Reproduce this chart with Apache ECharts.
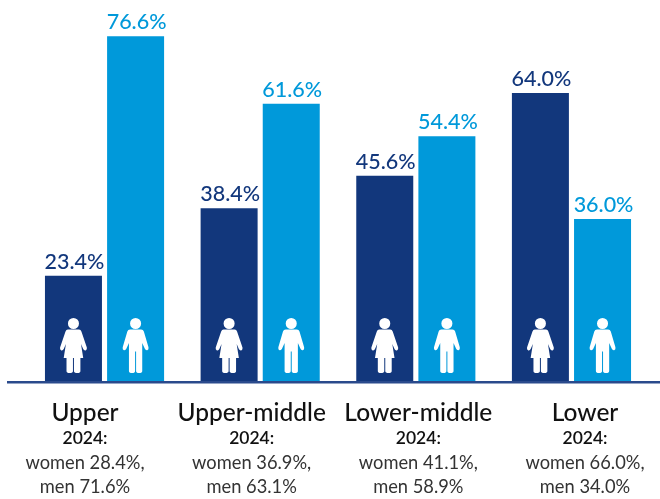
<!DOCTYPE html>
<html>
<head>
<meta charset="utf-8">
<style>html,body{margin:0;padding:0;background:#fff}#chart{width:660px;height:499px}</style>
<script src="https://cdn.jsdelivr.net/npm/echarts@6/dist/echarts.min.js"></script>
</head>
<body>
<div id="chart"></div>
<script>
// Share of women and men in each pay quartile
const categories = ['Upper', 'Upper-middle', 'Lower-middle', 'Lower'];
const womenShare = [23.4, 38.4, 45.6, 64.0];
const menShare = [76.6, 61.6, 54.4, 36.0];
const women2024 = ['28.4', '36.9', '41.1', '66.0'];
const men2024 = ['71.6', '63.1', '58.9', '34.0'];

const NAVY = '#12377c';
const BLUE = '#0099da';
const FONT = 'Lato, "Open Sans", sans-serif';

const womanIcon = 'path://M13.5 0a5.5 5.5 0 1 1-.01 0ZM8 11.5H19Q20.8 11.5 21.4 13.4L26.8 29.6Q27.3 31.8 25.6 32.4 24 32.8 23.2 31L21 26 23.2 40H20.4V53Q20.4 55 17.4 55 14 55 14 53V40H13V53Q13 55 9.6 55 6.6 55 6.6 53V40H3.8L6 26 3.8 31Q3 32.8 1.4 32.4-.3 31.8.2 29.6L5.6 13.4Q6.2 11.5 8 11.5Z';
const manIcon = 'path://M13 0a5.5 5.5 0 1 1-.01 0ZM7.5 11.5H18.5Q20.6 11.5 21.2 13.4L25.8 29.2Q26.3 31.6 24.6 32.2 23 32.6 22.2 30.8L19.6 25V53Q19.6 55 16.5 55 13.5 55 13.5 53V33.5H12.5V53Q12.5 55 9.5 55 6.4 55 6.4 53V25L3.8 30.8Q3 32.6 1.4 32.2-.3 31.6.2 29.2L4.8 13.4Q5.4 11.5 7.5 11.5Z';

function barSeries(name, data, color) {
  return {
    name, type: 'bar', data, barWidth: 57, barGap: '9%',
    itemStyle: { color },
    label: {
      show: true, position: 'top', distance: 3, offset: [1, 0],
      formatter: p => p.value.toFixed(1) + '%',
      color, fontFamily: FONT, fontSize: 21.5, fontWeight: 500
    },
    silent: true
  };
}

function iconSeries(name, data, symbol, size) {
  return {
    name, type: 'pictorialBar', data, symbol,
    symbolSize: size, symbolPosition: 'start', symbolOffset: [0, -8],
    barWidth: 57, barGap: '9%', z: 5,
    itemStyle: { color: '#fff' }, silent: true
  };
}

const chart = echarts.init(document.getElementById('chart'), null, { renderer: 'canvas' });
chart.setOption({
  animation: false,
  backgroundColor: '#fff',
  grid: [
    { left: 26.7, width: 622.6, top: 21, height: 360 },
    { left: 85, width: 500, top: 21, height: 360 }
  ],
  xAxis: [
    { type: 'category', gridIndex: 0, data: categories,
      axisLine: { show: false }, axisTick: { show: false }, axisLabel: { show: false } },
    { type: 'category', gridIndex: 1, data: categories, boundaryGap: false,
      axisLine: { show: false }, axisTick: { show: false },
      axisLabel: {
        interval: 0, margin: 23, lineHeight: 24, align: 'center',
        showMinLabel: true, showMaxLabel: true,
        formatter: (name, i) => `{tier|${name}}\n{year|2024:}\n{gap|women ${women2024[i]}%,}\n{gap|men ${men2024[i]}%}`,
        rich: {
          tier: { fontFamily: FONT, fontSize: 24.5, fontWeight: 500, color: '#111', lineHeight: 26 },
          year: { fontFamily: FONT, fontSize: 17.5, fontWeight: 600, color: '#111', lineHeight: 25 },
          gap: { fontFamily: FONT, fontSize: 18.3, color: '#333', lineHeight: 24 }
        }
      } }
  ],
  yAxis: [
    { type: 'value', gridIndex: 0, min: 0, max: 80, show: false },
    { type: 'value', gridIndex: 1, min: 0, max: 80, show: false }
  ],
  series: [
    barSeries('Women', womenShare, NAVY),
    barSeries('Men', menShare, BLUE),
    iconSeries('Women icon', womenShare, womanIcon, [27, 55]),
    iconSeries('Men icon', menShare, manIcon, [26, 55])
  ],
  graphic: [
    { type: 'rect', z: 10, shape: { x: 7, y: 381, width: 653, height: 2.5 }, style: { fill: '#2a4a8c' }, silent: true }
  ]
});
</script>
</body>
</html>
